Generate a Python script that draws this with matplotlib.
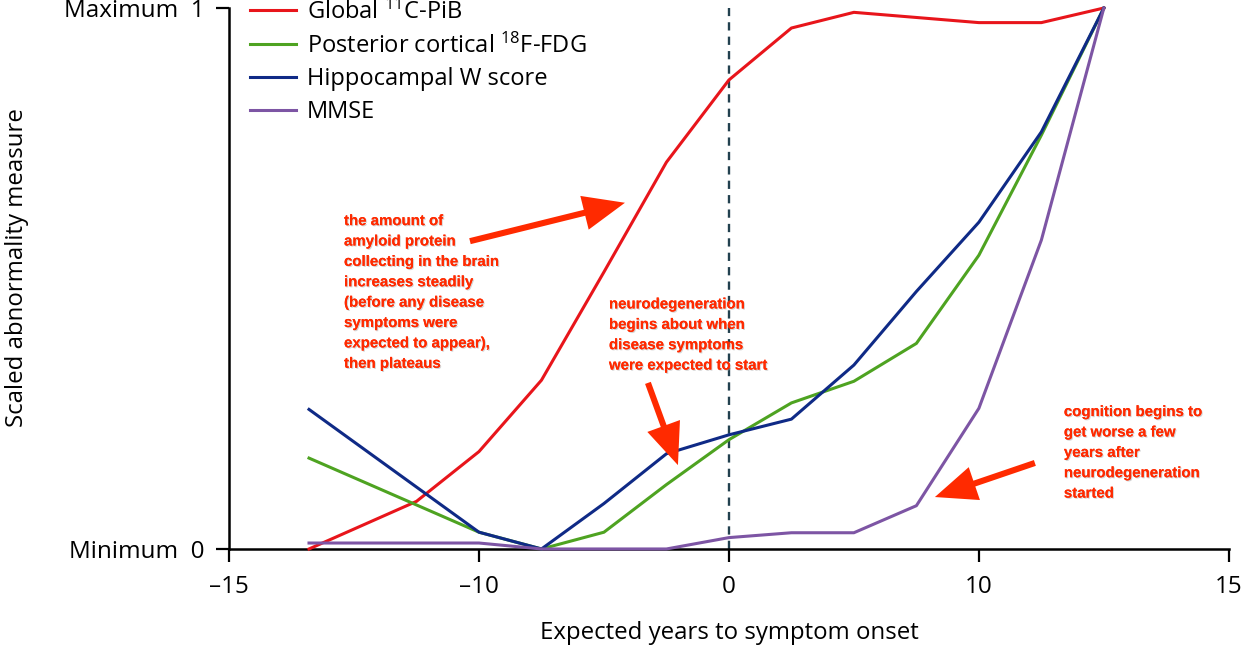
import matplotlib
matplotlib.use('Agg')
import matplotlib.pyplot as plt
import matplotlib.patheffects as pe
from matplotlib.patches import FancyArrowPatch

plt.rcParams['font.family'] = ['Open Sans', 'DejaVu Sans']
plt.rcParams['mathtext.default'] = 'regular'

# x positions in axis units (ticks every 10 units, labelled as in the figure)
tick_pos = [-20, -10, 0, 10, 20]
tick_labels = ['\u201315', '\u201310', '0', '10', '15']

x_pib = [-16.8, -12.5, -10, -7.5, -5, -2.5, 0, 2.5, 5, 10, 12.5, 15]
pib = [0.0, 0.088, 0.18, 0.312, 0.512, 0.715, 0.867, 0.963, 0.992, 0.973, 0.973, 1.0]

x_other = [-16.8, -10, -7.5, -5, -2.5, 0, 2.5, 5, 7.5, 10, 12.5, 15]
fdg = [0.168, 0.031, 0.0, 0.031, 0.119, 0.202, 0.27, 0.31, 0.38, 0.543, 0.765, 1.0]
hippo = [0.258, 0.031, 0.0, 0.084, 0.176, 0.211, 0.240, 0.34, 0.476, 0.604, 0.771, 1.0]
mmse = [0.011, 0.011, 0.0, 0.0, 0.0, 0.021, 0.030, 0.030, 0.080, 0.26, 0.571, 1.0]

names = ['Global $^{11}$C-PiB', 'Posterior cortical $^{18}$F-FDG',
         'Hippocampal W score', 'MMSE']
colors = ['#e8151b', '#4ea321', '#0f2a86', '#7d55a4']

notes = ['the amount of\namyloid protein\ncollecting in the brain\nincreases steadily\n'
         '(before any disease\nsymptoms were\nexpected to appear),\nthen plateaus',
         'neurodegeneration\nbegins about when\ndisease symptoms\nwere expected to start',
         'cognition begins to\nget worse a few\nyears after\nneurodegeneration\nstarted']
note_xy = [(-15.4, 0.619), (-4.8, 0.465), (13.4, 0.266)]
arrows = [((-10.36, 0.569), (-4.16, 0.640)),
          ((-3.24, 0.307), (-2.04, 0.155)),
          ((12.24, 0.159), (8.24, 0.096))]

fig = plt.figure(figsize=(12.42, 6.46), dpi=100)
ax = fig.add_axes([0.1844, 0.1502, 0.805, 0.8374])

ax.axvline(0, color='#22414f', lw=1.7, ls=(0, (3.5, 2.6)), zorder=1)

series = [(x_pib, pib), (x_other, fdg), (x_other, hippo), (x_other, mmse)]
for (xs, ys), nm, c in zip(series, names, colors):
    ax.plot(xs, ys, color=c, lw=2.2, label=nm, clip_on=False, zorder=3)

ax.set_xlim(-20, 20)
ax.set_ylim(0, 1)
ax.set_xticks(tick_pos)
ax.set_xticklabels(tick_labels)
ax.set_yticks([0, 1])
ax.set_yticklabels(['Minimum  0', 'Maximum  1'])
for s in ['top', 'right']:
    ax.spines[s].set_visible(False)
for s in ['left', 'bottom']:
    ax.spines[s].set_linewidth(1.8)
ax.tick_params(axis='both', direction='out', length=9.5, width=1.6,
               labelsize=17.5, colors='black')
ax.tick_params(axis='x', pad=9)
ax.tick_params(axis='y', pad=8)

ax.set_xlabel('Expected years to symptom onset', fontsize=17.3)
ax.xaxis.set_label_coords(0.5, -0.133)
ax.set_ylabel('Scaled abnormality measure', fontsize=17.3)
ax.yaxis.set_label_coords(-0.2, 0.52)

leg = ax.legend(loc='upper left', bbox_to_anchor=(0.021, 1.016), frameon=False,
                fontsize=17, handlelength=1.95, handletextpad=0.45,
                labelspacing=0.37, borderaxespad=0, borderpad=0)

shadow = [pe.withSimplePatchShadow(offset=(0.8, -0.8), shadow_rgbFace='#aaaaaa', alpha=0.5),
          pe.Normal()]
for txt, (tx, ty) in zip(notes, note_xy):
    ax.text(tx, ty, txt, color='#ff2a00', fontsize=10.8, fontweight='bold',
            family=['Liberation Sans', 'DejaVu Sans'], ha='left', va='top',
            linespacing=1.58, path_effects=shadow, zorder=5)

for tail, head in arrows:
    ar = FancyArrowPatch(tail, head,
                         arrowstyle='simple,head_length=1.5,head_width=1.25,tail_width=0.22',
                         mutation_scale=20, color='#ff2a00', lw=0,
                         shrinkA=0, shrinkB=0, zorder=5)
    ax.add_patch(ar)

fig.savefig('out.png', dpi=100)
